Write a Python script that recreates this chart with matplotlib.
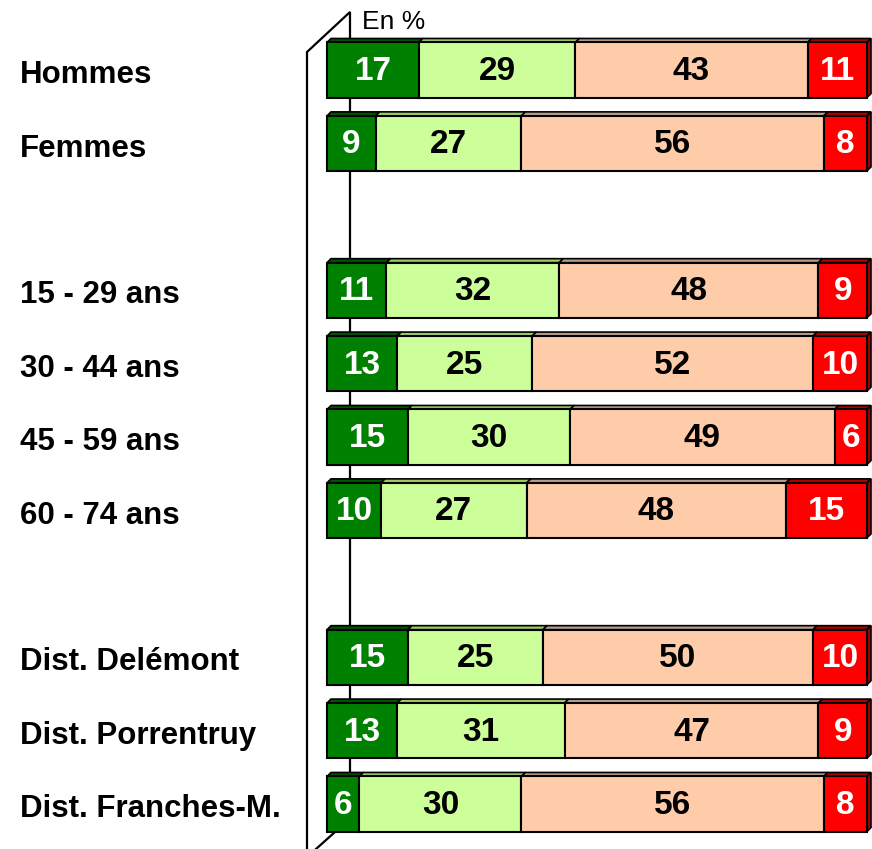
import numpy as np
import matplotlib.pyplot as plt
from matplotlib.patches import Polygon

# Données (en %)
categories = ['Hommes', 'Femmes', '15 - 29 ans', '30 - 44 ans', '45 - 59 ans',
              '60 - 74 ans', 'Dist. Delémont', 'Dist. Porrentruy', 'Dist. Franches-M.']
rangs = [0, 1, 3, 4, 5, 6, 8, 9, 10]
serie1 = [17, 9, 11, 13, 15, 10, 15, 13, 6]
serie2 = [29, 27, 32, 25, 30, 27, 25, 31, 30]
serie3 = [43, 56, 48, 52, 49, 48, 50, 47, 56]
serie4 = [11, 8, 9, 10, 6, 15, 10, 9, 8]

couleurs = ['#008000', '#CCFF99', '#FFCCAA', '#FF0000']
couleurs_dessus = ['#005500', '#99CC66', '#B89C86', '#B00000']
couleurs_texte = ['white', 'black', 'black', 'white']

police = ['Liberation Sans Narrow', 'Liberation Sans', 'DejaVu Sans']

fig = plt.figure(figsize=(8.72, 8.49), dpi=100)
ax = fig.add_axes([0, 0, 1, 1])
ax.axis('off')

# échelle: 5.4 px par %, 73.4 px par rang
px_x, px_y = 5.4, 73.4
ax.set_xlim(-327 / px_x, (872 - 327) / px_x)
ax.set_ylim((849 - 70) / px_y, -70 / px_y)

dx = 4 / px_x
dy = 4 / px_y
h = 0.75

# paroi
ax.plot([-20 / px_x, -20 / px_x, 23 / px_x, 23 / px_x],
        [(849 - 70) / px_y, (52 - 70) / px_y, (12 - 70) / px_y, (820 - 70) / px_y],
        color='black', lw=1.6, zorder=1, solid_joinstyle='miter')
ax.plot([-11 / px_x, 8 / px_x], [(849 - 70) / px_y, (832 - 70) / px_y],
        color='black', lw=1.6, zorder=1)

series = [serie1, serie2, serie3, serie4]
for i, r in enumerate(rangs):
    gauche = 0
    for k, s in enumerate(series):
        v = s[i]
        ax.barh(r, v, left=gauche, height=h, color=couleurs[k],
                edgecolor='black', lw=1.5, zorder=3)
        haut = r - h / 2
        ax.add_patch(Polygon([(gauche, haut), (gauche + v, haut),
                              (gauche + v + dx, haut - dy), (gauche + dx, haut - dy)],
                             closed=True, facecolor=couleurs_dessus[k],
                             edgecolor='black', lw=1.2, zorder=2))
        if k == 3:
            bas = r + h / 2
            ax.add_patch(Polygon([(gauche + v, haut), (gauche + v + dx, haut - dy),
                                  (gauche + v + dx, bas - dy), (gauche + v, bas)],
                                 closed=True, facecolor='#A00000',
                                 edgecolor='black', lw=1.2, zorder=2))
        ax.text(gauche + v / 2, r + 0.02, str(v), ha='center', va='center',
                color=couleurs_texte[k], fontsize=24, fontweight='bold',
                family=police, zorder=4)
        gauche += v
    ax.text(-307 / px_x, r + 0.07, categories[i], ha='left', va='center',
            fontsize=22.5, fontweight='bold', family=police)

ax.text(35 / px_x, (22 - 70) / px_y, 'En %', ha='left', va='center',
        fontsize=19, family=police)

plt.savefig('out.png', dpi=100)
